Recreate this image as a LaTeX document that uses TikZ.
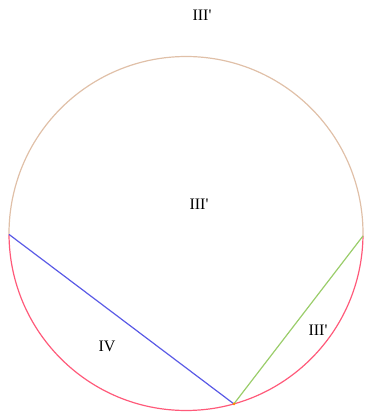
\documentclass[tikz,border=0pt]{standalone}
\usepackage{fontspec}
\setmainfont{Liberation Serif}
\usetikzlibrary{calc}
\begin{document}
\begin{tikzpicture}[x=1pt,y=1pt,
  lbl/.style={font=\fontsize{16}{16}\selectfont},
  arcline/.style={line width=1.2pt}]
\useasboundingbox (0,0) rectangle (364,419);
\coordinate (O) at (186,185.5);
\coordinate (L) at ($(O)+(180.3:177)$);
\coordinate (R) at ($(O)+(-0.8:177)$);
\coordinate (B) at ($(O)+(-74.3:177)$);
\draw[arcline,color={rgb,255:red,224;green,192;blue,168}] (R) arc[start angle=-0.8,end angle=180.3,radius=177];
\draw[arcline,color={rgb,255:red,255;green,90;blue,122}] (L) arc[start angle=180.3,end angle=359.2,radius=177];
\draw[line width=1.2pt,color={rgb,255:red,90;green,90;blue,230}] (L) -- (B);
\draw[line width=1.2pt,color={rgb,255:red,154;green,205;blue,106}] (B) -- (R);
\node[circle,fill={rgb,255:red,255;green,140;blue,0},inner sep=0pt,minimum size=3pt] (dot) at (B) {};
\node[lbl] (t1) at (202,404) {III\textquotesingle};
\node[lbl] (t2) at (199,215) {III\textquotesingle};
\node[lbl] (t3) at (107,73) {IV};
\node[lbl] (t4) at (318,89) {III\textquotesingle};
\end{tikzpicture}
\end{document}
